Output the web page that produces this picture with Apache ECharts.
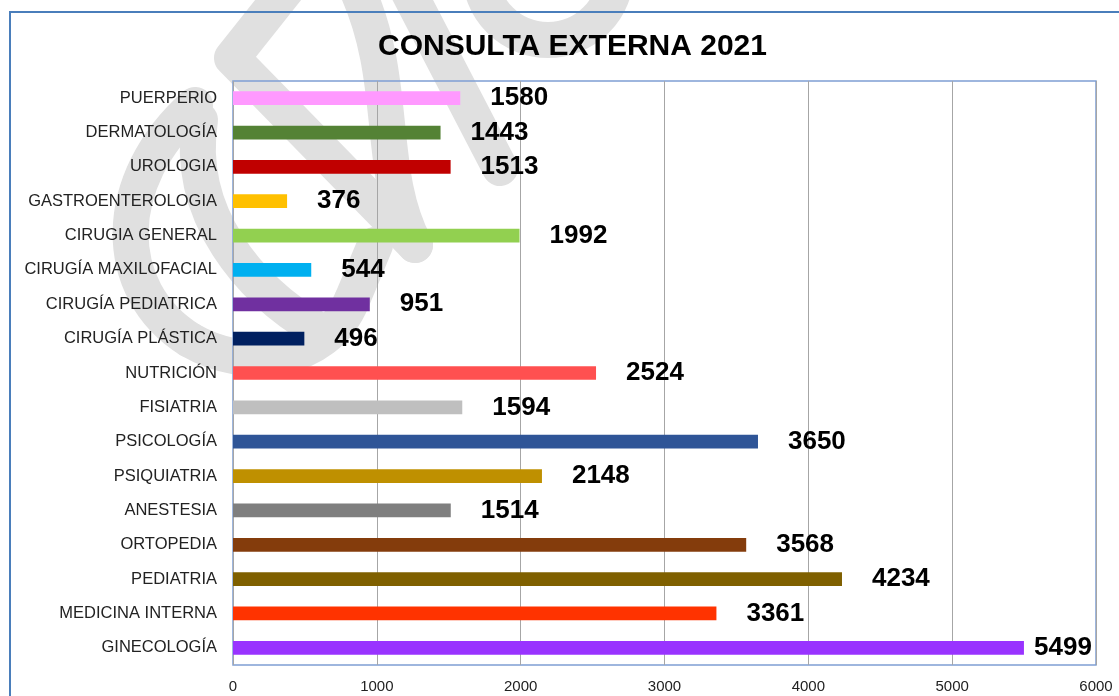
<!DOCTYPE html>
<html>
<head>
<meta charset="utf-8">
<title>Consulta Externa 2021</title>
<script src="https://cdn.jsdelivr.net/npm/echarts@6/dist/echarts.min.js"></script>
<style>
    html, body { margin: 0; padding: 0; background: #fff; }
    #chart { width: 1119px; height: 696px; }
</style>
</head>
<body>
<div id="chart"></div>
<script>
    "use strict";

    // Servicios, de arriba hacia abajo
    var categories = [
        "PUERPERIO", "DERMATOLOGÍA", "UROLOGIA", "GASTROENTEROLOGIA",
        "CIRUGIA GENERAL", "CIRUGÍA MAXILOFACIAL", "CIRUGÍA PEDIATRICA",
        "CIRUGÍA PLÁSTICA", "NUTRICIÓN", "FISIATRIA", "PSICOLOGÍA",
        "PSIQUIATRIA", "ANESTESIA", "ORTOPEDIA", "PEDIATRIA",
        "MEDICINA INTERNA", "GINECOLOGÍA"
    ];
    var consultas = [1580, 1443, 1513, 376, 1992, 544, 951, 496, 2524, 1594, 3650, 2148, 1514, 3568, 4234, 3361, 5499];
    var barColors = [
        "#ff99ff", "#548235", "#c00000", "#ffc000", "#92d050", "#00b0f0",
        "#7030a0", "#002060", "#ff5050", "#bfbfbf", "#2f5597", "#bf9000",
        "#7f7f7f", "#843c0c", "#7f6000", "#ff3300", "#9933ff"
    ];
    var xTicks = [0, 1000, 2000, 3000, 4000, 5000, 6000];

    var FONT = "Liberation Sans, Arial, sans-serif";
    var GRID = { left: 233, right: 23, top: 81, bottom: 31 };

    var chart = echarts.init(document.getElementById("chart"));

    // Etiqueta a unos 30px del final de la barra, salvo que no quepa dentro del area
    var plotWidth = 1119 - GRID.left - GRID.right;
    var xMax = xTicks[xTicks.length - 1];
    function labelDistance(v) {
        var room = (xMax - v) * plotWidth / xMax - String(v).length * 14.5 - 4;
        return Math.max(4, Math.min(30, room));
    }

    // Marca de agua gris de fondo (aprox.)
    var wm = { stroke: "#e0e0e0", lineWidth: 36, fill: null, lineCap: "round", lineJoin: "round" };
    var watermark = [
        { type: "polyline", shape: { points: [[290, -15], [232, 58], [415, 245]] } },
        { type: "bezierCurve", shape: { x1: 355, y1: -15, cpx1: 400, cpy1: 80, cpx2: 375, cpy2: 170, x2: 415, y2: 245 } },
        { type: "bezierCurve", shape: { x1: 195, y1: 105, cpx1: 110, cpy1: 180, cpx2: 110, cpy2: 290, x2: 190, y2: 340 } },
        { type: "bezierCurve", shape: { x1: 190, y1: 340, cpx1: 245, cpy1: 372, cpx2: 325, cpy2: 365, x2: 352, y2: 300 } },
        { type: "line", shape: { x1: 352, y1: 300, x2: 375, y2: 245 } },
        { type: "bezierCurve", shape: { x1: 200, y1: 120, cpx1: 185, cpy1: 215, cpx2: 250, cpy2: 290, x2: 318, y2: 330 } },
        { type: "line", shape: { x1: 405, y1: -15, x2: 500, y2: 168 } },
        { type: "circle", shape: { cx: 548, cy: -28, r: 68 } }
    ].map(function (g) {
        g.z = 0;
        g.silent = true;
        g.style = wm;
        return g;
    });

    var option = {
        animation: false,
        backgroundColor: "#ffffff",
        title: {
            text: "CONSULTA EXTERNA 2021",
            left: 373,
            top: 27,
            z: 8,
            textStyle: {
                fontFamily: FONT,
                fontSize: 30,
                fontWeight: "bold",
                color: "#000"
            }
        },
        graphic: watermark.concat([{
            type: "rect",
            silent: true,
            z: 1,
            shape: { x: 10, y: 12, width: 1200, height: 800 },
            style: { fill: null, stroke: "#4a7ebb", lineWidth: 2 }
        }]),
        grid: {
            left: GRID.left,
            right: GRID.right,
            top: GRID.top,
            bottom: GRID.bottom,
            show: true,
            z: 5,
            backgroundColor: "transparent",
            borderColor: "#7f9fd3",
            borderWidth: 1.5,
            containLabel: false
        },
        xAxis: {
            type: "value",
            z: 5,
            min: xTicks[0],
            max: xMax,
            interval: xTicks[1] - xTicks[0],
            axisLine: { show: false },
            axisTick: { show: false },
            axisLabel: {
                color: "#222",
                fontFamily: FONT,
                fontSize: 15,
                margin: 14,
                formatter: function (v) { return String(v); }
            },
            splitLine: { show: true, lineStyle: { color: "#a6a6a6", width: 1 } }
        },
        yAxis: {
            type: "category",
            z: 5,
            inverse: true,
            data: categories,
            axisLine: { show: false },
            axisTick: { show: false },
            axisLabel: {
                color: "#222",
                fontFamily: FONT,
                fontSize: 16.5,
                margin: 16
            }
        },
        series: [{
            type: "bar",
            z: 6,
            barWidth: "40%",
            data: consultas.map(function (v, i) {
                return {
                    value: v,
                    itemStyle: { color: barColors[i] },
                    label: { distance: labelDistance(v) }
                };
            }),
            label: {
                show: true,
                position: "right",
                color: "#000",
                fontFamily: FONT,
                fontSize: 26,
                fontWeight: "bold"
            }
        }]
    };

    chart.setOption(option);
</script>
</body>
</html>
